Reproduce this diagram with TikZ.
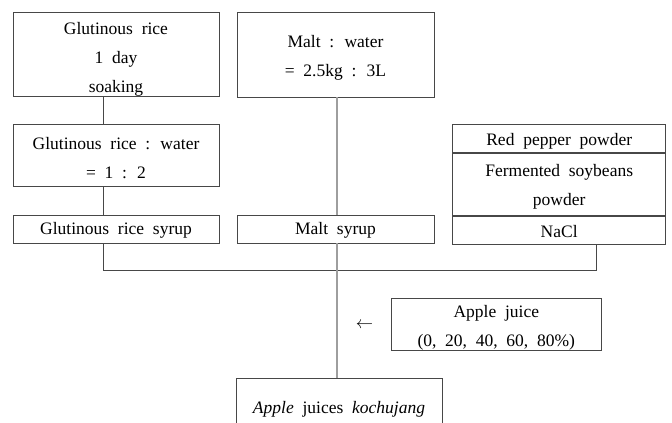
\documentclass[tikz,border=0pt]{standalone}
\usepackage{fontspec}
\setmainfont{Liberation Serif}
\newcommand{\boxfont}{\fontsize{17.5}{29}\selectfont\spaceskip=0.5em plus 0.1em\relax}
\begin{document}
\begin{tikzpicture}[x=1pt,y=-1pt,
  box/.style={draw=black!72,line width=0.9pt,inner sep=0pt},
  txt/.style={inner sep=0pt,align=center,font=\boxfont},
  conn/.style={draw=black!72,line width=0.9pt},
  gconn/.style={draw=black!38,line width=1.8pt}]
\useasboundingbox (0,0) rectangle (672,423);
% boxes
\node[box,minimum width=206pt,minimum height=84pt] (soak) at (116,54.5) {};
\node[box,minimum width=197pt,minimum height=85pt] (malt) at (335.5,54.5) {};
\node[box,minimum width=206pt,minimum height=62pt] (ratio) at (116,155) {};
\node[box,minimum width=206pt,minimum height=28pt] (gsyrup) at (116,229) {};
\node[box,minimum width=197pt,minimum height=28pt] (msyrup) at (335.5,229) {};
\node[box,minimum width=213pt,minimum height=28pt] (red) at (559.2,138.3) {};
\node[box,minimum width=213pt,minimum height=62pt,anchor=north] (soy) at (red.south) {};
\node[box,minimum width=213pt,minimum height=28.4pt,anchor=north] (nacl) at (soy.south) {};
\node[box,minimum width=210.7pt,minimum height=51.7pt] (apple) at (496.3,324.2) {};
\node[box,minimum width=206pt,minimum height=58pt] (final) at (339,407) {};
% texts
\node[txt] (soakt) at ([yshift=-4.5pt]soak.center) {Glutinous rice\\1 day\\soaking};
\node[txt] (maltt) at ([yshift=-3pt]malt.center) {Malt : water\\= 2.5kg : 3L};
\node[txt] (ratiot) at ([yshift=-3pt]ratio.center) {Glutinous rice : water\\= 1 : 2};
\node[txt] (gsyrupt) at ([yshift=-1.5pt]gsyrup.center) {Glutinous rice syrup};
\node[txt] (msyrupt) at ([yshift=-1.5pt]msyrup.center) {Malt syrup};
\node[txt] (redt) at ([yshift=-2.5pt]red.center) {Red pepper powder};
\node[txt] (soyt) at ([yshift=-3pt]soy.center) {Fermented soybeans\\powder};
\node[txt] (naclt) at ([yshift=-1pt]nacl.center) {NaCl};
\node[txt] (applet) at ([yshift=-4pt]apple.center) {Apple juice\\(0, 20, 40, 60, 80\%)};
\node[txt] (finalt) at ([yshift=-2.5pt]final.center) {\textit{Apple} juices \textit{kochujang}};
\node[font=\fontsize{16}{19}\selectfont,inner sep=0pt] (arr) at (364.5,325) {$\leftarrow$};
% connectors
\coordinate (jl) at (103,270.7);
\coordinate (jr) at (596.7,270.7);
\coordinate (jm) at (336.7,270.7);
\draw[conn] (soak.south -| jl) -- (ratio.north -| jl);
\draw[conn] (ratio.south -| jl) -- (gsyrup.north -| jl);
\draw[conn] (gsyrup.south -| jl) -- (jl) -- (jr) -- (nacl.south -| jr);
\draw[gconn] (malt.south -| jm) -- (msyrup.north -| jm);
\draw[gconn] (msyrup.south -| jm) -- (final.north -| jm);
\end{tikzpicture}
\end{document}
